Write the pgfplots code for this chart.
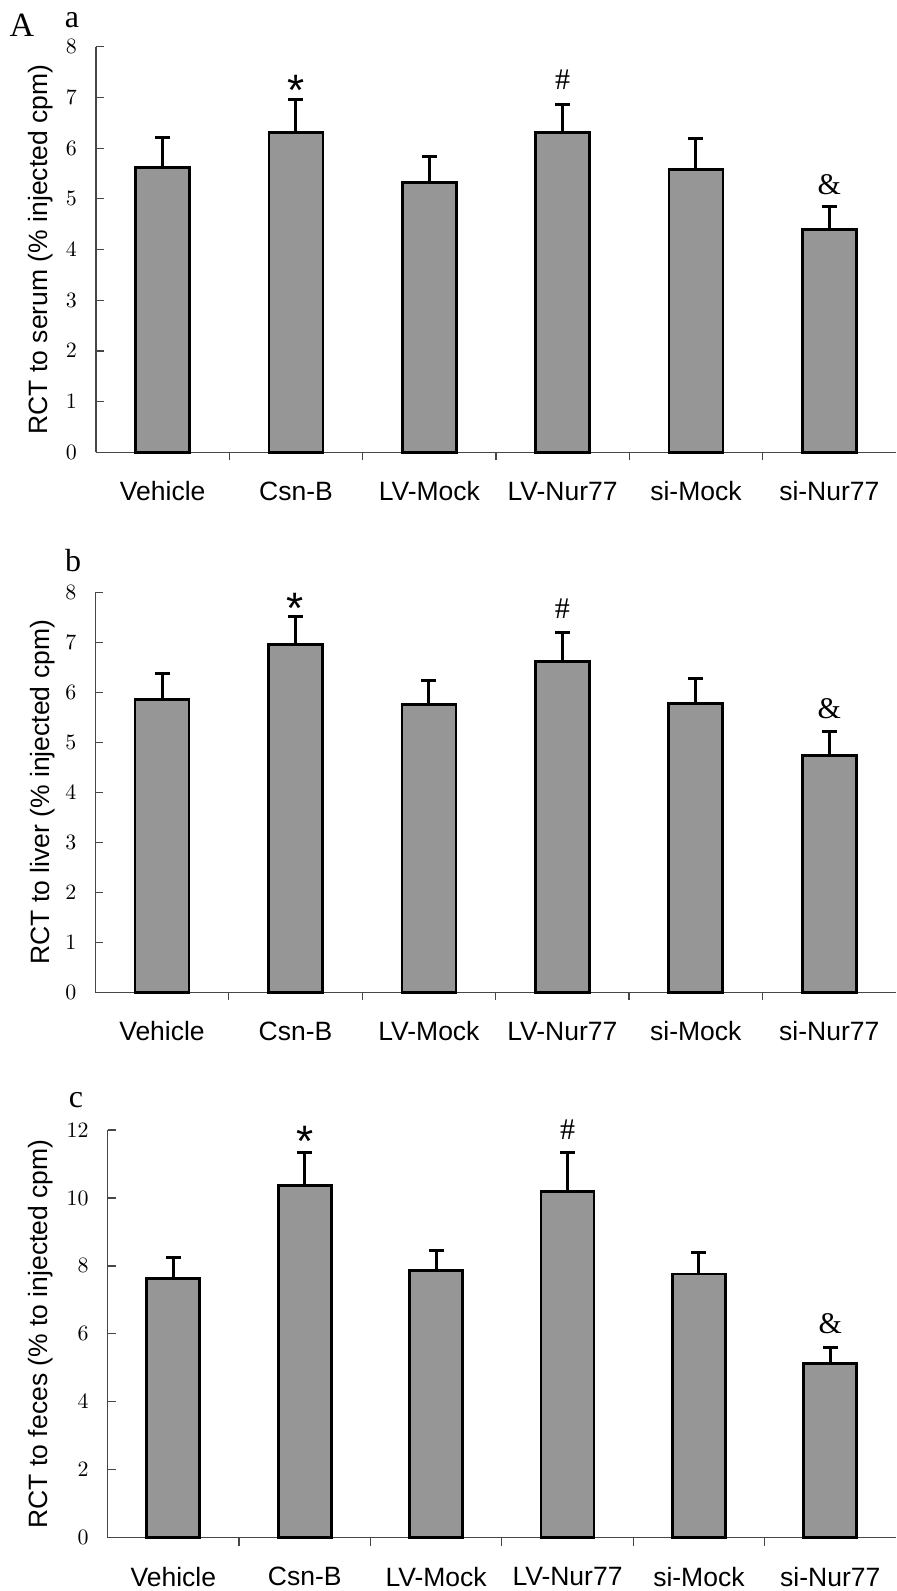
\documentclass[border=0pt]{standalone}
\usepackage{fontspec}
\setmainfont{Liberation Sans}
\newfontfamily\tnr{Liberation Serif}
\usepackage{pgfplots}
\pgfplotsset{compat=1.18}
\usepackage{pgfplotstable}
\definecolor{barfill}{RGB}{150,150,150}
\definecolor{axgray}{RGB}{70,70,70}

\pgfplotstableread{
x y e
0 5.62 0.59
1 6.31 0.65
2 5.32 0.51
3 6.31 0.55
4 5.58 0.61
5 4.40 0.44
}\dataA
\pgfplotstableread{
x y e
0 5.86 0.51
1 6.96 0.55
2 5.75 0.48
3 6.62 0.57
4 5.77 0.51
5 4.74 0.47
}\dataB
\pgfplotstableread{
x y e
0 7.64 0.61
1 10.37 0.96
2 7.86 0.59
3 10.19 1.14
4 7.76 0.64
5 5.13 0.47
}\dataC

\pgfplotsset{rct/.style={
  scale only axis, xmin=-0.5, xmax=5.5, ymin=0,
  axis lines*=left, axis line style={axgray, line width=0.6pt},
  tick align=inside, major tick length=4pt, minor tick length=4pt,
  ytick style={axgray, line width=0.6pt},
  xtick={0,...,5}, xticklabels={Vehicle,Csn-B,LV-Mock,LV-Nur77,si-Mock,si-Nur77},
  minor xtick={0.5,1.5,2.5,3.5,4.5},
  major x tick style={draw=none},
  minor x tick style={axgray, line width=0.6pt},
  xticklabel style={font=\fontsize{13.25}{15}\selectfont, anchor=center, yshift=-15.5pt},
  yticklabel style={font=\fontsize{10.5}{12}\selectfont, xshift=-6pt},
  ylabel style={font=\fontsize{13.25}{15}\selectfont, anchor=center},
  clip=false,
  ybar, bar width=27pt,
}}
\pgfplotsset{barplot/.style={fill=barfill, draw=black, line width=1.4pt,
  error bars/.cd, y dir=plus, y explicit,
  error bar style={black, line width=1.5pt},
  error mark options={rotate=90, black, line width=1.5pt, mark size=3.75pt}}}

\begin{document}
\begin{tikzpicture}
\useasboundingbox (0,0) rectangle (448pt,-795.5pt);
% panel a
\begin{axis}[rct, at={(48pt,-226.15pt)}, anchor=south west,
  width=400pt, height=202.8pt, ymax=8, ytick={0,1,...,8},
  ylabel={RCT to serum (\% injected cpm)},
  ylabel style={at={(axis description cs:-0.069,0.5)}}]
\addplot[barplot] table[x=x, y=y, y error=e] {\dataA};
\node[font=\fontsize{22}{22}\selectfont, anchor=base, yshift=-12.5pt] at (axis cs:1,7.34) {*};
\node[font=\tnr\fontsize{15}{15}\selectfont] at (axis cs:3,7.34) {\#};
\node[font=\tnr\fontsize{15}{15}\selectfont] at (axis cs:5,5.27) {\&};
\end{axis}
% panel b
\begin{axis}[rct, at={(47.65pt,-496.15pt)}, anchor=south west,
  width=400.35pt, height=200pt, ymax=8, ytick={0,1,...,8},
  ylabel={RCT to liver (\% injected cpm)},
  ylabel style={at={(axis description cs:-0.066,0.5)}}]
\addplot[barplot] table[x=x, y=y, y error=e] {\dataB};
\node[font=\fontsize{22}{22}\selectfont, anchor=base, yshift=-12.5pt] at (axis cs:1,7.87) {*};
\node[font=\tnr\fontsize{15}{15}\selectfont] at (axis cs:3,7.68) {\#};
\node[font=\tnr\fontsize{15}{15}\selectfont] at (axis cs:5,5.67) {\&};
\end{axis}
% panel c
\begin{axis}[rct, at={(53.85pt,-768.85pt)}, anchor=south west,
  width=394.15pt, height=203.85pt, ymax=12, ytick={0,2,...,12},
  bar width=26.5pt,
  ylabel={RCT to feces (\% to injected cpm)},
  ylabel style={at={(axis description cs:-0.085,0.5)}}]
\addplot[barplot] table[x=x, y=y, y error=e] {\dataC};
\node[font=\fontsize{22}{22}\selectfont, anchor=base, yshift=-12.5pt] at (axis cs:1,11.95) {*};
\node[font=\tnr\fontsize{15}{15}\selectfont] at (axis cs:3,12.0) {\#};
\node[font=\tnr\fontsize{15}{15}\selectfont] at (axis cs:5,6.3) {\&};
\end{axis}
% panel letters
\node[font=\tnr\fontsize{17}{17}\selectfont] at (11pt,-12.5pt) {A};
\node[font=\tnr\fontsize{16}{16}\selectfont] at (36pt,-10pt) {a};
\node[font=\tnr\fontsize{16}{16}\selectfont] at (36.5pt,-280.5pt) {b};
\node[font=\tnr\fontsize{16}{16}\selectfont] at (38pt,-550pt) {c};
\end{tikzpicture}
\end{document}
